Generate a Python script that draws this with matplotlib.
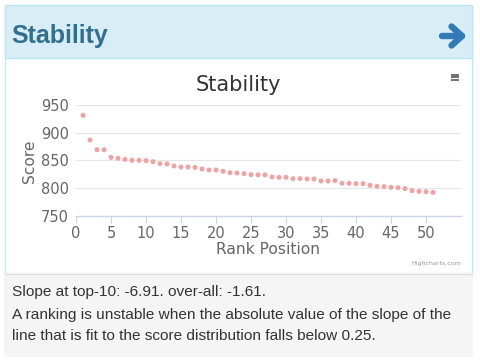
import matplotlib
matplotlib.use("Agg")
import matplotlib.pyplot as plt
from matplotlib.patches import Rectangle
from matplotlib.lines import Line2D

W, H = 481, 362

# ---- data ----
ranks = list(range(1, 52))
scores = [931.4, 887.0, 869.5, 869.5, 855.7, 854.0, 852.0, 850.3, 850.3, 849.7,
          848.0, 844.4, 843.7, 840.0, 838.3, 838.3, 837.6, 834.7, 832.9, 832.9,
          830.5, 828.0, 827.5, 826.3, 824.5, 824.2, 824.2, 820.3, 819.7, 819.7,
          817.3, 817.3, 816.7, 816.7, 813.1, 813.1, 813.7, 808.9, 808.9, 808.3,
          808.3, 805.3, 803.5, 802.9, 801.7, 801.1, 799.3, 795.6, 794.4, 793.8,
          792.6]
x_ticks = [0, 5, 10, 15, 20, 25, 30, 35, 40, 45, 50]
y_ticks = [750, 800, 850, 900, 950]
panel_title = "Stability"
chart_title = "Stability"
x_title = "Rank Position"
y_title = "Score"
footer_lines = ["Slope at top-10: -6.91. over-all: -1.61.",
                "A ranking is unstable when the absolute value of the slope of the",
                "line that is fit to the score distribution falls below 0.25."]

fig = plt.figure(figsize=(W / 100, H / 100), dpi=100)
fig.patch.set_facecolor("white")

def fx(x):
    return x / W

def fy(y):
    return 1 - y / H

def rect(x0, y0, x1, y1, fc, ec="none", lw=0, z=-2):
    fig.patches.append(Rectangle((fx(x0), fy(y1)), fx(x1) - fx(x0), fy(y0) - fy(y1),
                                 transform=fig.transFigure, facecolor=fc,
                                 edgecolor=ec, linewidth=lw, zorder=z))

def line(xs, ys, color, lw, z=-1, cap="butt"):
    fig.lines.append(Line2D([fx(v) for v in xs], [fy(v) for v in ys],
                            transform=fig.transFigure, color=color, linewidth=lw,
                            zorder=z, solid_capstyle=cap))

# panel pieces
rect(4.5, 5.5, 472.5, 273, "white", "#bce8f1", 1.0)
rect(4.5, 5.5, 472.5, 58, "#d9edf7", "#bce8f1", 1.0)
rect(4, 273, 473, 357, "#f5f5f5")
line([4, 473], [273.5, 273.5], "#dddddd", 0.8)

fig.text(fx(11), fy(43.5), panel_title, fontsize=18, fontweight="bold",
         color="#31708f", family="Liberation Sans", ha="left", va="baseline")

# arrow icon
acol = "#337ab7"
line([442, 461], [36, 36], acol, 4.6, cap="round")
line([451.5, 462], [26.5, 36], acol, 4.6, cap="round")
line([451.5, 462], [45.5, 36], acol, 4.6, cap="round")

# menu icon
for yy in [74.5, 77.3, 80.1]:
    line([451, 459], [yy, yy], "#666666", 1.3)

# chart axes
ax = fig.add_axes([fx(76), fy(216), fx(461) - fx(76), fy(105) - fy(216)])
ax.set_zorder(5)
ax.set_facecolor("none")
ax.scatter(ranks, scores, s=13, color="#eea3a3", edgecolors="none", zorder=3, clip_on=False)
ax.set_xlim(0, 55)
ax.set_ylim(750, 950)
ax.set_xticks(x_ticks)
ax.set_yticks(y_ticks)
for s in ["top", "right", "left"]:
    ax.spines[s].set_visible(False)
ax.spines["bottom"].set_color("#ccd6eb")
ax.spines["bottom"].set_linewidth(1.0)
ax.spines["bottom"].set_zorder(2)
for v in y_ticks[1:]:
    ax.axhline(v, color="#e6e6e6", linewidth=0.8, zorder=1)
ax.tick_params(axis="x", length=5, width=0.8, color="#ccd6eb", pad=2.5,
               labelsize=10.5, labelcolor="#666666")
ax.tick_params(axis="y", length=0, pad=5, labelsize=10.5, labelcolor="#666666")
for lab in ax.get_xticklabels() + ax.get_yticklabels():
    lab.set_family("DejaVu Sans")

fig.text(fx(238), fy(85), chart_title, fontsize=15, color="#333333",
         family="DejaVu Sans", ha="center", va="center")
fig.text(fx(268), fy(250), x_title, fontsize=11.2, color="#666666",
         family="DejaVu Sans", ha="center", va="center")
fig.text(fx(30), fy(161), y_title, fontsize=11.2, color="#666666",
         family="DejaVu Sans", ha="center", va="center", rotation=90)
fig.text(fx(461), fy(263.5), "Highcharts.com", fontsize=4.5, color="#999999",
         family="DejaVu Sans", ha="right", va="center")

# footer text
for i, t in enumerate(footer_lines):
    fig.text(fx(12), fy(296 + [0, 23.5, 44.5][i]), t, fontsize=11.1, color="#333333",
             family="Liberation Sans", ha="left", va="baseline")

fig.savefig("out.png", dpi=100, facecolor="white")
